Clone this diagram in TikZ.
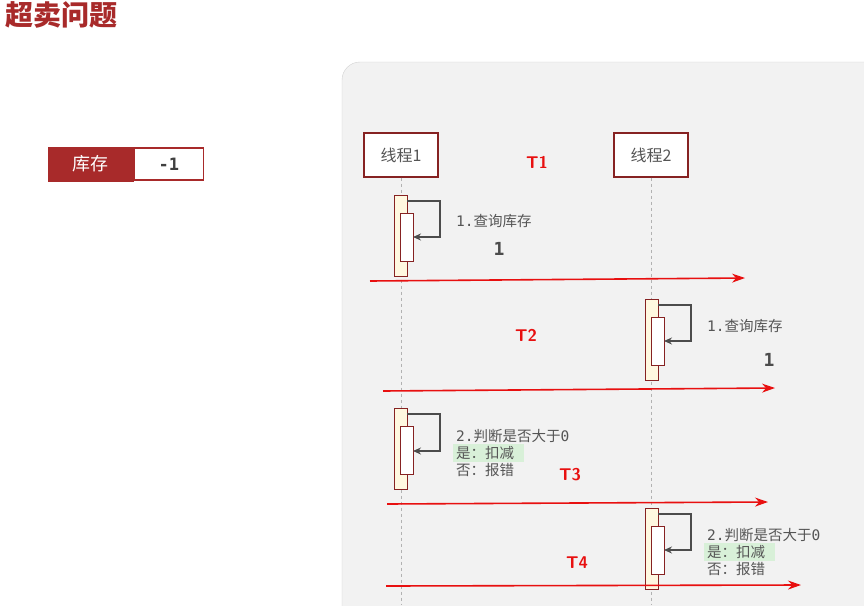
\documentclass[tikz,border=0pt]{standalone}
\usepackage{fontspec}
\newfontfamily\cjk{Noto Sans CJK SC}
\newfontfamily\mymono{DejaVu Sans Mono}
\usetikzlibrary{arrows.meta}
\definecolor{dred}{HTML}{A82A2A}
\definecolor{bred}{HTML}{E81010}
\definecolor{txt}{HTML}{555555}
\definecolor{act}{HTML}{FFF8E0}
\definecolor{hl}{HTML}{D8F0D8}
\begin{document}
\begin{tikzpicture}[x=1pt,y=-1pt,
  life/.style={draw=dred!80!black,fill=white,line width=1.2pt,minimum width=74pt,minimum height=44pt,inner sep=0pt,font=\cjk\fontsize{16}{16}\selectfont,text=txt},
  lline/.style={gray!60,dashed,line width=0.9pt},
  outer/.style={draw=dred!80!black,fill=act,line width=1pt},
  inner/.style={draw=dred!80!black,fill=white,line width=1pt},
  self/.style={draw=black!70,line width=1.2pt,-{Stealth[length=8pt,width=7pt]}},
  tick/.style={bred,line width=1.6pt,-{Stealth[length=13pt,width=9pt]}},
  tlab/.style={text=bred,font=\sffamily\bfseries\fontsize{17}{17}\selectfont},
  msg/.style={anchor=west,text=txt,font=\cjk\fontsize{14.5}{17}\selectfont,inner sep=0pt,align=left},
  one/.style={text=black!70,font=\mymono\bfseries\fontsize{18}{18}\selectfont}]
\useasboundingbox (0,0) rectangle (864,605);
\fill[white] (0,0) rectangle (864,605);
\draw[gray!35,fill=black!5,rounded corners=18pt] (342,62) rectangle (900,640);
\node[anchor=north west,text=dred,font=\cjk\bfseries\fontsize{28}{28}\selectfont,inner sep=0pt] (title) at (5,1) {超卖问题};
% stock box
\node[draw=dred,fill=dred,line width=1pt,minimum width=85pt,minimum height=34pt,inner sep=0pt,text=white,font=\cjk\fontsize{18}{18}\selectfont] (kc) at (90.5,164) {库存};
\node[draw=dred,fill=white,line width=1.5pt,minimum width=69pt,minimum height=32pt,inner sep=0pt,anchor=west,font=\mymono\bfseries\fontsize{17}{17}\selectfont,text=black!75] (val) at (kc.east) {-1};
% lifelines
\node[life] (t1) at (401,155) {线程1};
\node[life] (t2) at (651,155) {线程2};
\coordinate (e1) at (401,605); \coordinate (e2) at (651,605);
\draw[lline] (t1.south) -- (e1);
\draw[lline] (t2.south) -- (e2);
% activations
\foreach \n/\x/\y/\d in {a/400.5/195/237, b/651.5/299/341, c/400.5/408/451, d/651.5/508/550}{
  \draw[outer] (\x-6.5,\y) rectangle (\x+6.5,\y+81);
  \draw[inner] (\x-0.5,\y+18) rectangle (\x+12.5,\y+66);
  \coordinate (\n s) at (\x+6.5,\y+6);
  \coordinate (\n e) at (\x+12.5,\d);
  \draw[self] (\n s) -| (\x+39.5,\d) -- (\n e);
}
% messages
\node[msg] (m1) at (456,221) {{\mymono 1.}查询库存};
\node[one] (o1) at (499,249) {1};
\node[msg] (m2) at (707,326) {{\mymono 1.}查询库存};
\node[one] (o2) at (769,360) {1};
\fill[hl] (453,444) rectangle (524,462);
\node[msg] (m3) at (456,453) {{\mymono 2.}判断是否大于{\mymono 0}\\是：扣减\\否：报错};
\fill[hl] (704,543) rectangle (775,561);
\node[msg] (m4) at (707,552) {{\mymono 2.}判断是否大于{\mymono 0}\\是：扣减\\否：报错};
% time labels
\node[tlab] (T1) at (537,162) {T1};
\node[tlab] (T2) at (526,335) {T2};
\node[tlab] (T3) at (570,475) {T3};
\node[tlab] (T4) at (577,563) {T4};
% time arrows
\coordinate (r1a) at (370,281); \coordinate (r1b) at (745,278);
\coordinate (r2a) at (383,391); \coordinate (r2b) at (775,388);
\coordinate (r3a) at (387,504); \coordinate (r3b) at (768,502);
\coordinate (r4a) at (386,586); \coordinate (r4b) at (801,585);
\draw[tick] (r1a) -- (r1b);
\draw[tick] (r2a) -- (r2b);
\draw[tick] (r3a) -- (r3b);
\draw[tick] (r4a) -- (r4b);
\end{tikzpicture}
\end{document}
